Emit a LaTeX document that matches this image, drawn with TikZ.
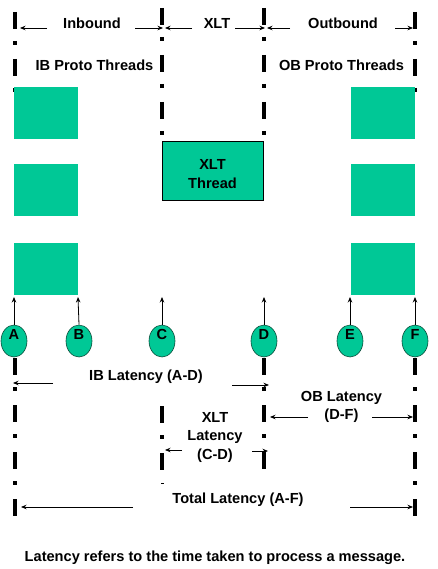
\documentclass[tikz,border=0pt]{standalone}
\usepackage{fontspec}
\setmainfont{Liberation Sans}
\usetikzlibrary{arrows.meta,shapes.geometric}
\definecolor{tgreen}{HTML}{00C896}
\definecolor{cedge}{HTML}{0A4A38}
\begin{document}
\begin{tikzpicture}[x=1pt,y=-1pt,
  lbl/.style={font=\fontsize{14.6}{18.5}\selectfont\bfseries, inner sep=0pt, align=center},
  ddline/.style={line width=3.5pt, dash pattern=on 17pt off 12pt on 4pt off 14pt},
  arr/.style={line width=0.8pt, -{Stealth[length=5.5pt,width=4.5pt]}},
  pbox/.style={fill=tgreen, draw=none},
  pcirc/.style={ellipse, fill=tgreen, draw=cedge, line width=0.6pt, minimum width=26pt, minimum height=32pt, inner sep=0pt}]
\useasboundingbox (0,0) rectangle (437,569);
\fill[white] (0,0) rectangle (437,569);
% dash-dot lines
\coordinate (L1a) at (15,12); \coordinate (L1b) at (15,94);
\coordinate (L2a) at (15,358); \coordinate (L2b) at (15,517);
\coordinate (C1a) at (162,8); \coordinate (C1b) at (162,136);
\coordinate (C2a) at (162,406); \coordinate (C2b) at (162,470);
\coordinate (D1a) at (264,8); \coordinate (D1b) at (264,136);
\coordinate (D2a) at (264,358); \coordinate (D2b) at (264,470);
\coordinate (R1a) at (415,12); \coordinate (R1b) at (415,94);
\coordinate (R2a) at (415,358); \coordinate (R2b) at (415,517);
\draw[ddline] (L1a) -- (L1b);
\draw[ddline] (L2a) -- (L2b);
\draw[ddline] (C1a) -- (C1b);
\draw[ddline] (C2a) -- (C2b);
\draw[ddline] (D1a) -- (D1b);
\draw[ddline] (D2a) -- (D2b);
\draw[ddline] (R1a) -- (R1b);
\draw[ddline] (R2a) -- (R2b);
\draw[line width=0.7pt] (161,483) -- (164,483);
% boxes
\node[pbox, minimum width=64pt, minimum height=52pt, inner sep=0pt] (ib1) at (46,113) {};
\node[pbox, minimum width=64pt, minimum height=52pt, inner sep=0pt] (ib2) at (46,190) {};
\node[pbox, minimum width=64pt, minimum height=52pt, inner sep=0pt] (ib3) at (46,269) {};
\node[pbox, minimum width=64pt, minimum height=52pt, inner sep=0pt] (ob1) at (383,113) {};
\node[pbox, minimum width=64pt, minimum height=52pt, inner sep=0pt] (ob2) at (383,190) {};
\node[pbox, minimum width=64pt, minimum height=52pt, inner sep=0pt] (ob3) at (383,269) {};
\node[fill=tgreen, draw=black, line width=0.7pt, minimum width=101pt, minimum height=59pt, inner sep=0pt] (xlt) at (212.5,170.5) {};
\node[lbl] (xltt) at (212.5,174) {XLT\\Thread};
% circles
\node[pcirc] (A) at (14,341) {};
\node[pcirc] (B) at (79,341) {};
\node[pcirc] (C) at (162,341) {};
\node[pcirc] (D) at (264,341) {};
\node[pcirc] (E) at (350,341) {};
\node[pcirc] (F) at (415,341) {};
\foreach \n in {A,B,C,D,E,F} {\node[lbl] at ([yshift=7pt]\n.center) {\n};}
% up arrows
\coordinate (tA) at (14,297); \coordinate (tB) at (78,297); \coordinate (tC) at (162,297);
\coordinate (tD) at (264,297); \coordinate (tE) at (350,297); \coordinate (tF) at (415,297);
\foreach \n in {A,B,C,D,E,F} {\draw[arr] (\n.north) -- (t\n);}
% header labels
\node[lbl] (inb) at (92,23) {Inbound};
\node[lbl] (xl) at (217,23) {XLT};
\node[lbl] (outb) at (343,23) {Outbound};
\coordinate (h1) at (20,28); \coordinate (h2) at (163,28);
\coordinate (h3) at (165,28); \coordinate (h4) at (265,28);
\coordinate (h5) at (267,28); \coordinate (h6) at (413,28);
\draw[arr] (47,28) -- (h1);
\draw[arr] (135,28) -- (h2);
\draw[arr] (192,28) -- (h3);
\draw[arr] (235,28) -- (h4);
\draw[arr] (290,28) -- (h5);
\draw[arr] (395,28) -- (h6);
\node[lbl] (ibp) at (94.5,65) {IB Proto Threads};
\node[lbl] (obp) at (341.5,65) {OB Proto Threads};
% latency labels
\node[lbl] (ibl) at (146,377) {IB Latency (A-D)};
\coordinate (i1) at (13,383); \coordinate (i2) at (269,385);
\draw[arr] (53,383) -- (i1);
\draw[arr] (232,385) -- (i2);
\node[lbl] (obl) at (341.5,407) {OB Latency\\(D-F)};
\coordinate (o1) at (270,417); \coordinate (o2) at (413,417);
\draw[arr] (308,417) -- (o1);
\draw[arr] (372,417) -- (o2);
\node[lbl] (xll) at (215,437) {XLT\\Latency\\(C-D)};
\coordinate (x1) at (165,450); \coordinate (x2) at (268,451);
\draw[arr] (182,450) -- (x1);
\draw[arr] (252,451) -- (x2);
\node[lbl] (tot) at (238,500) {Total Latency (A-F)};
\coordinate (t1) at (21,507); \coordinate (t2) at (413,507);
\draw[arr] (133,507) -- (t1);
\draw[arr] (350,507) -- (t2);
\node[lbl] (cap) at (215,558) {Latency refers to the time taken to process a message.};
\end{tikzpicture}
\end{document}
